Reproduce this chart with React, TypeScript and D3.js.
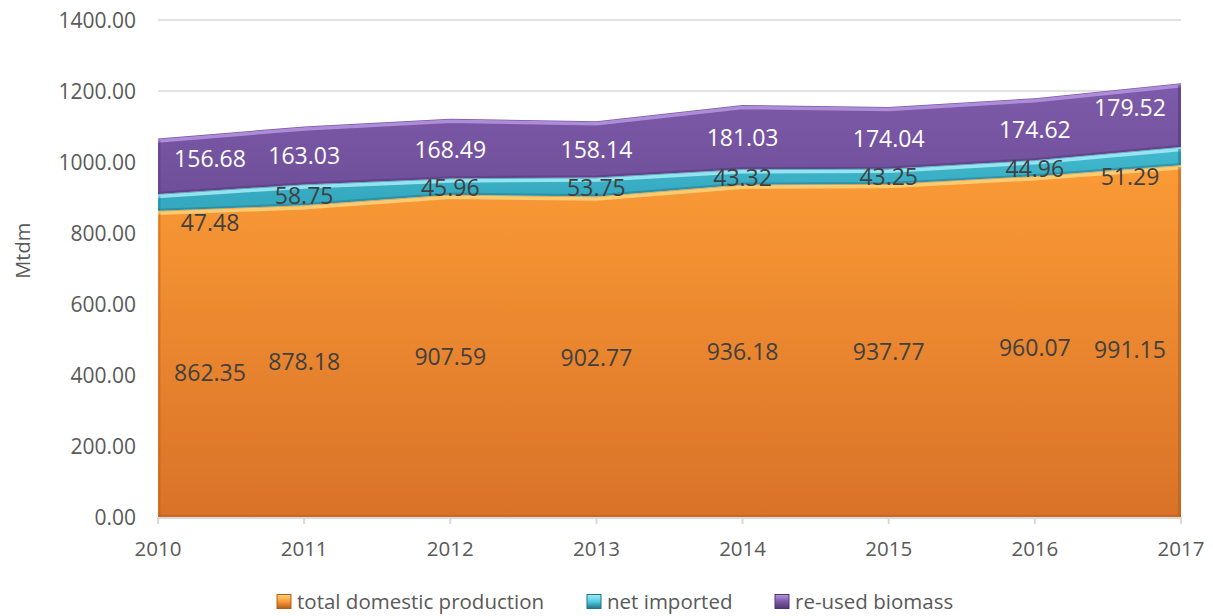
import React, { useEffect, useRef } from 'react';
import * as d3 from 'd3';

const years = ['2010', '2011', '2012', '2013', '2014', '2015', '2016', '2017'];
const domestic = [862.35, 878.18, 907.59, 902.77, 936.18, 937.77, 960.07, 991.15];
const imported = [47.48, 58.75, 45.96, 53.75, 43.32, 43.25, 44.96, 51.29];
const reused = [156.68, 163.03, 168.49, 158.14, 181.03, 174.04, 174.62, 179.52];
const seriesNames = ['total domestic production', 'net imported', 're-used biomass'];
const yTicks = [0, 200, 400, 600, 800, 1000, 1200, 1400];

const W = 1213;
const H = 616;
const FONT = '"Open Sans", sans-serif';

// fill / highlight / dark edge / label colour per series
const looks = [
  { top: '#fb9b36', bottom: '#d97228', hi: '#fcd37c', dark: '#b35d1c', label: '#404040', edgeShift: 8 },
  { top: '#52cde2', bottom: '#35a9bf', hi: '#a6ecf5', dark: '#1f7486', label: '#404040', edgeShift: 20 },
  { top: '#7d5aa9', bottom: '#6e4e99', hi: '#b697e0', dark: '#4f3673', label: '#ffffff', edgeShift: -8 },
];

const App = () => {
  const svgRef = useRef(null);

  useEffect(() => {
    const svg = d3.select(svgRef.current);
    svg.selectAll('*').remove();

    const x = d3.scalePoint().domain(years).range([158, 1181]);
    const y = d3.scaleLinear().domain([0, 1400]).range([517, 20]);

    const rows = years.map((yr, i) => ({
      year: yr,
      s0: domestic[i],
      s1: imported[i],
      s2: reused[i],
    }));
    const stacked = d3.stack<any>().keys(['s0', 's1', 's2'])(rows);

    const defs = svg.append('defs');
    looks.forEach((lk, i) => {
      const g = defs
        .append('linearGradient')
        .attr('id', 'grad' + i)
        .attr('gradientUnits', 'userSpaceOnUse')
        .attr('x1', 0)
        .attr('x2', 0)
        .attr('y1', i === 0 ? y(1000) : y(1200))
        .attr('y2', i === 0 ? y(0) : y(900));
      g.append('stop').attr('offset', '0%').attr('stop-color', lk.top);
      g.append('stop').attr('offset', '100%').attr('stop-color', lk.bottom);
      const lg = defs
        .append('linearGradient')
        .attr('id', 'leg' + i)
        .attr('x1', 0)
        .attr('x2', 0)
        .attr('y1', 0)
        .attr('y2', 1);
      lg.append('stop').attr('offset', '0%').attr('stop-color', lk.hi);
      lg.append('stop').attr('offset', '50%').attr('stop-color', lk.top);
      lg.append('stop').attr('offset', '100%').attr('stop-color', lk.dark);
    });

    // gridlines
    svg
      .append('g')
      .selectAll('line')
      .data(yTicks.slice(1))
      .join('line')
      .attr('x1', 158)
      .attr('x2', 1181)
      .attr('y1', (d) => y(d))
      .attr('y2', (d) => y(d))
      .attr('stroke', '#d9d9d9')
      .attr('stroke-width', 1.3);

    // y tick labels
    svg
      .append('g')
      .selectAll('text')
      .data(yTicks)
      .join('text')
      .attr('x', 136)
      .attr('y', (d) => y(d))
      .attr('text-anchor', 'end')
      .attr('dominant-baseline', 'central')
      .attr('font-family', FONT)
      .attr('font-size', 21)
      .attr('fill', '#595959')
      .text((d) => d3.format('.2f')(d));

    // axis title
    svg
      .append('text')
      .attr('transform', `translate(22, ${y(750)}) rotate(-90)`)
      .attr('text-anchor', 'middle')
      .attr('dominant-baseline', 'central')
      .attr('font-family', FONT)
      .attr('font-size', 20)
      .attr('fill', '#595959')
      .text('Mtdm');

    const area = d3
      .area<any>()
      .x((d) => x(d.data.year) as number)
      .y0((d) => y(d[0]))
      .y1((d) => y(d[1]));
    const topLine = d3
      .line<any>()
      .x((d) => x(d.data.year) as number)
      .y((d) => y(d[1]));
    const baseLine = d3
      .line<any>()
      .x((d) => x(d.data.year) as number)
      .y((d) => y(d[0]));

    stacked.forEach((layer, i) => {
      const lk = looks[i];
      svg.append('path').datum(layer).attr('d', area).attr('fill', `url(#grad${i})`);
      // dark lower edge
      svg
        .append('path')
        .datum(layer)
        .attr('d', baseLine)
        .attr('transform', 'translate(0,-1.2)')
        .attr('fill', 'none')
        .attr('stroke', lk.dark)
        .attr('stroke-width', 2)
        .attr('stroke-opacity', 0.45);
      // light bevel on top edge
      svg
        .append('path')
        .datum(layer)
        .attr('d', topLine)
        .attr('transform', 'translate(0,2.5)')
        .attr('fill', 'none')
        .attr('stroke', lk.hi)
        .attr('stroke-width', 3.5)
        .attr('stroke-opacity', 0.85);
      // side shading
      const last = layer[layer.length - 1];
      svg
        .append('line')
        .attr('x1', 1179.5)
        .attr('x2', 1179.5)
        .attr('y1', y(last[1]) + 2)
        .attr('y2', y(last[0]) - 1)
        .attr('stroke', lk.dark)
        .attr('stroke-width', 3)
        .attr('stroke-opacity', 0.55);
      svg
        .append('line')
        .attr('x1', 159.5)
        .attr('x2', 159.5)
        .attr('y1', y(layer[0][1]) + 2)
        .attr('y2', y(layer[0][0]) - 1)
        .attr('stroke', lk.dark)
        .attr('stroke-width', 2)
        .attr('stroke-opacity', 0.4);
    });

    // x axis
    svg
      .append('line')
      .attr('x1', 158)
      .attr('x2', 1181)
      .attr('y1', 518)
      .attr('y2', 518)
      .attr('stroke', '#d9d9d9')
      .attr('stroke-width', 2);
    svg
      .append('g')
      .selectAll('line')
      .data(years)
      .join('line')
      .attr('x1', (d) => x(d) as number)
      .attr('x2', (d) => x(d) as number)
      .attr('y1', 517)
      .attr('y2', 524)
      .attr('stroke', '#d9d9d9')
      .attr('stroke-width', 2);
    svg
      .append('g')
      .selectAll('text')
      .data(years)
      .join('text')
      .attr('x', (d) => x(d) as number)
      .attr('y', 548)
      .attr('text-anchor', 'middle')
      .attr('dominant-baseline', 'central')
      .attr('font-family', FONT)
      .attr('font-size', 20.5)
      .attr('fill', '#595959')
      .text((d) => d);

    // data labels
    stacked.forEach((layer, i) => {
      svg
        .append('g')
        .selectAll('text')
        .data(layer)
        .join('text')
        .attr('x', (d: any, j) => {
          const px = x(d.data.year) as number;
          if (j === 0) return px + 52;
          if (j === years.length - 1) return px - 51;
          return px;
        })
        .attr('y', (d: any, j) => {
          const py = y((d[0] + d[1]) / 2);
          const edge = j === 0 || j === years.length - 1;
          return edge ? py + looks[i].edgeShift : py;
        })
        .attr('text-anchor', 'middle')
        .attr('dominant-baseline', 'central')
        .attr('font-family', FONT)
        .attr('font-size', 23)
        .attr('fill', looks[i].label)
        .text((d: any) => d3.format('.2f')(d[1] - d[0]));
    });

    // legend
    const legendX = [277, 587, 775];
    seriesNames.forEach((name, i) => {
      const g = svg.append('g').attr('transform', `translate(${legendX[i]}, 601)`);
      g.append('rect')
        .attr('x', 0)
        .attr('y', -6.5)
        .attr('width', 14)
        .attr('height', 14)
        .attr('fill', `url(#leg${i})`)
        .attr('stroke', looks[i].dark)
        .attr('stroke-width', 1);
      g.append('text')
        .attr('x', 20)
        .attr('y', 0)
        .attr('dominant-baseline', 'central')
        .attr('font-family', FONT)
        .attr('font-size', 20.5)
        .attr('fill', '#595959')
        .text(name);
    });
  }, []);

  return (
    <svg
      ref={svgRef}
      width={W}
      height={H}
      style={{ position: 'absolute', left: 0, top: 0, background: '#fff' }}
    ></svg>
  );
};

export default App;
